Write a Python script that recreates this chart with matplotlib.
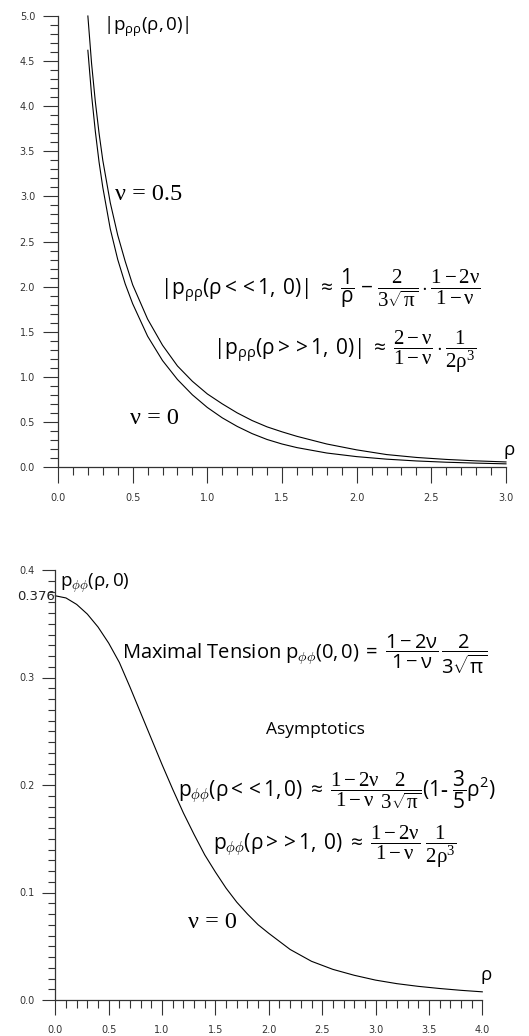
import matplotlib
matplotlib.use("Agg")
import matplotlib.pyplot as plt
from matplotlib.ticker import MultipleLocator, FormatStrFormatter

plt.rcParams['mathtext.fontset'] = 'custom'
plt.rcParams['mathtext.rm'] = 'Liberation Serif'
plt.rcParams['mathtext.it'] = 'Liberation Serif:italic'
plt.rcParams['mathtext.bf'] = 'Liberation Serif:bold'
plt.rcParams['mathtext.sf'] = 'Open Sans'
plt.rcParams['mathtext.default'] = 'rm'

# ---- data: top panel |p_rr(rho,0)| ----
rho_top = [0.20, 0.225, 0.25, 0.275, 0.30, 0.35, 0.40, 0.45, 0.50, 0.60, 0.70, 0.80,
           0.90, 1.00, 1.10, 1.20, 1.30, 1.40, 1.50, 1.60, 1.80, 2.00, 2.20, 2.40,
           2.60, 2.80, 3.00]
p_rr_nu05 = [5.00, 4.47, 4.05, 3.70, 3.40, 2.93, 2.57, 2.28, 2.02, 1.64, 1.35, 1.12,
             0.95, 0.81, 0.70, 0.60, 0.515, 0.445, 0.39, 0.34, 0.255, 0.19, 0.138, 0.106,
             0.084, 0.068, 0.056]
p_rr_nu0 = [4.62, 4.12, 3.72, 3.38, 3.10, 2.64, 2.30, 2.03, 1.81, 1.45, 1.18, 0.97,
            0.80, 0.66, 0.545, 0.45, 0.37, 0.305, 0.255, 0.215, 0.155, 0.115, 0.087, 0.067,
            0.053, 0.043, 0.035]

# ---- data: bottom panel p_phiphi(rho,0), nu = 0 ----
rho_bot = [0.0, 0.1, 0.2, 0.3, 0.4, 0.5, 0.6, 0.7, 0.8, 0.9, 1.0, 1.1, 1.2, 1.3, 1.4,
           1.5, 1.6, 1.7, 1.8, 1.9, 2.0, 2.2, 2.4, 2.6, 2.8, 3.0, 3.2, 3.4, 3.6, 3.8, 4.0]
p_ff_nu0 = [0.376, 0.374, 0.368, 0.359, 0.347, 0.332, 0.314, 0.291, 0.267, 0.243, 0.219,
            0.196, 0.174, 0.154, 0.135, 0.119, 0.104, 0.091, 0.080, 0.070, 0.062, 0.047,
            0.036, 0.0285, 0.0230, 0.0185, 0.0152, 0.0127, 0.0107, 0.0090, 0.0076]

W, H = 529, 1036
fig = plt.figure(figsize=(W / 100, H / 100), dpi=100)

def fx(px):
    return px / W

def fy(py):
    return 1 - py / H

tick_col = '#333333'

def style(ax, ymaj, ymin, xmaj, xmin, ylen, xlen):
    for s in ('top', 'right'):
        ax.spines[s].set_visible(False)
    for s in ('left', 'bottom'):
        ax.spines[s].set_color(tick_col)
        ax.spines[s].set_linewidth(0.9)
    ax.yaxis.set_major_locator(MultipleLocator(ymaj))
    ax.yaxis.set_minor_locator(MultipleLocator(ymin))
    ax.xaxis.set_major_locator(MultipleLocator(xmaj))
    ax.xaxis.set_minor_locator(MultipleLocator(xmin))
    ax.xaxis.set_major_formatter(FormatStrFormatter('%.1f'))
    ax.yaxis.set_major_formatter(FormatStrFormatter('%.1f'))
    ax.tick_params(axis='y', which='major', direction='out', length=ylen, width=0.8,
                   pad=5.5, labelsize=7, colors=tick_col)
    ax.tick_params(axis='y', which='minor', direction='out', length=ylen / 2, width=0.8,
                   colors=tick_col)
    ax.tick_params(axis='x', which='major', direction='out', length=xlen, width=0.8,
                   pad=7, labelsize=7, colors=tick_col)
    ax.tick_params(axis='x', which='minor', direction='out', length=xlen / 2, width=0.8,
                   colors=tick_col)

serif = 'Liberation Serif'
fnu = 17.5

# ---------------- top panel ----------------
ax1 = fig.add_axes([fx(58), fy(467), 448 / W, 451 / H])
ax1.set_xlim(0, 3)
ax1.set_ylim(0, 5)
style(ax1, 0.5, 0.1, 0.5, 0.1, 11, 11.5)
ax1.plot(rho_top, p_rr_nu05, color='black', lw=0.8, clip_on=False)
ax1.plot(rho_top, p_rr_nu0, color='black', lw=0.8, clip_on=False)

ft = 13.5
fe = 15
fig.text(fx(103), fy(27), r'$\mathsf{|p_{\rho\rho}(\rho,0)|}$', fontsize=ft, va='center')
fig.text(fx(115), fy(195), 'ν = 0.5', fontsize=fnu, va='center', family=serif)
fig.text(fx(160), fy(288),
         r'$\mathsf{|p_{\rho\rho}(\rho<<1,\ 0)|\ \approx\ }\dfrac{\mathsf{1}}{\mathsf{\rho}}\ \mathsf{-}\ \dfrac{2}{3\sqrt{\pi}}\cdot\dfrac{1-2\nu}{1-\nu}$',
         fontsize=fe, va='center')
fig.text(fx(213), fy(352),
         r'$\mathsf{|p_{\rho\rho}(\rho>>1,\ 0)|\ \approx\ }\dfrac{2-\nu}{1-\nu}\cdot\dfrac{1}{2\rho^3}$',
         fontsize=fe, va='center')
fig.text(fx(130), fy(419), 'ν = 0', fontsize=fnu, va='center', family=serif)
fig.text(fx(503), fy(451), r'$\mathsf{\rho}$', fontsize=ft, va='center')

# ---------------- bottom panel ----------------
ax2 = fig.add_axes([fx(55.3), fy(1000), 427 / W, 430 / H])
ax2.set_xlim(0, 4)
ax2.set_ylim(0, 0.4)
style(ax2, 0.1, 0.01, 0.5, 0.1, 9.5, 11)
ax2.plot(rho_bot, p_ff_nu0, color='black', lw=0.8, clip_on=False)

fig.text(fx(17), fy(596), '0.376', fontsize=9.5, va='center', color='#222222')
fig.text(fx(60), fy(583), r'$\mathsf{p_{\phi\phi}(\rho,0)}$', fontsize=ft, va='center')
fig.text(fx(122), fy(654),
         r'$\mathsf{Maximal\ Tension\ p_{\phi\phi}(0,0)\ =\ }\dfrac{\mathsf{1-2\nu}}{\mathsf{1-\nu}}\,\dfrac{\mathsf{2}}{\mathsf{3}\sqrt{\mathsf{\pi}}}$',
         fontsize=14.5, va='center')
fig.text(fx(315), fy(730), 'Asymptotics', fontsize=12.5, va='center', ha='center',
         family='Open Sans')
fig.text(fx(178), fy(790),
         r'$\mathsf{p_{\phi\phi}(\rho<<1,0)\ \approx\ }\dfrac{1-2\nu}{1-\nu}\dfrac{2}{3\sqrt{\pi}}\mathsf{(1\text{-}\ }\dfrac{\mathsf{3}}{\mathsf{5}}\mathsf{\rho^2)}$',
         fontsize=fe, va='center')
fig.text(fx(213), fy(847),
         r'$\mathsf{p_{\phi\phi}(\rho>>1,\ 0)\ \approx\ }\dfrac{1-2\nu}{1-\nu}\ \dfrac{1}{2\rho^3}$',
         fontsize=fe, va='center')
fig.text(fx(188), fy(922), 'ν = 0', fontsize=fnu, va='center', family=serif)
fig.text(fx(480), fy(977), r'$\mathsf{\rho}$', fontsize=ft, va='center')

fig.savefig('out.png', dpi=100)
